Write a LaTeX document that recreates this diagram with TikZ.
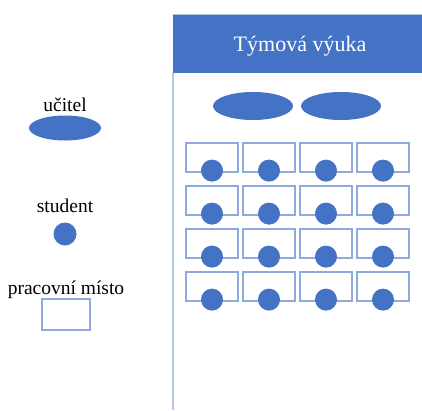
\documentclass[tikz,border=0pt]{standalone}
\usepackage{fontspec}
\setmainfont{Liberation Serif}
\usetikzlibrary{positioning,shapes.geometric}
\definecolor{ucblue}{HTML}{4472C4}
\definecolor{deskline}{HTML}{8FAADC}
\definecolor{panelline}{HTML}{B4C7E7}

\begin{document}
\begin{tikzpicture}[x=1pt, y=-1pt]
    \tikzset{%
      lbl/.style={font=\fontsize{19.5}{22}\selectfont, inner sep=0pt},
      teacher/.style={ellipse, fill=ucblue, minimum width=80pt, minimum height=28pt, inner sep=0pt},
      pupil/.style={circle, fill=ucblue, minimum size=22pt, inner sep=0pt},
      desk/.style={draw=deskline, line width=1.2pt, fill=white, minimum width=52pt, minimum height=29pt, inner sep=0pt}
      }
    \useasboundingbox (0,0) rectangle (422,410);

    % legenda
    \node [teacher, minimum width=72pt, minimum height=25pt] (Lteach) at (65,128) {};
    \node [lbl, above=3pt of Lteach] (LteachT) {učitel};
    \node [pupil, minimum size=23pt] (Lpupil) at (65,234) {};
    \node [lbl, above=9pt of Lpupil] (LpupilT) {student};
    \node [desk, minimum width=48pt, minimum height=31pt] (Ldesk) at (66,314.5) {};
    \node [lbl, above=0pt of Ldesk] (LdeskT) {pracovní místo};

    % tabule
    \draw [panelline, line width=1.5pt] (173,73) -- (173,410);
    \fill [ucblue] (173,14) rectangle (422,73);
    \draw [panelline, line width=0.8pt] (173,14) -- (422,14);
    \node [lbl, text=white, font=\fontsize{22}{26}\selectfont] (title) at (300,46) {Týmová výuka};

    \node [teacher] (T1) at (253,106) {};
    \node [teacher] (T2) at (341,106) {};

    \foreach \r in {0,...,3} {
      \foreach \c in {0,...,3} {
        \node [desk] (D\r\c) at (212+57*\c, 157.5+43*\r) {};
        \node [pupil] (S\r\c) at ([yshift=2pt]D\r\c.south) {};
      }
    }
  \end{tikzpicture}
\end{document}
